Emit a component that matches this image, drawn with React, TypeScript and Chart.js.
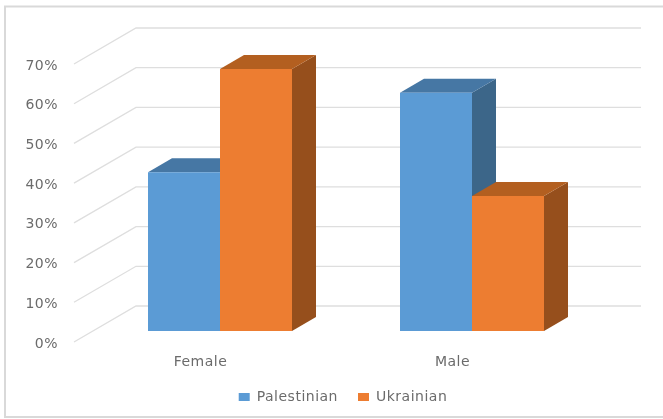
import React, { useEffect, useRef } from "react";
import { Chart, registerables } from "chart.js";

Chart.register(...registerables);

const categories = ["Female", "Male"];
const palestinian = [40, 60];
const ukrainian = [66, 34];
const seriesNames = ["Palestinian", "Ukrainian"];

const FONT = "'DejaVu Sans'";
const TEXT = "#6b6b6b";
const GRID = "#dedede";
const DEPTH_X = 24;
const DEPTH_Y = 14;
const WALL_X = 42;
const WALL_Y = 25;
const FLOOR_X = 62;
const FLOOR_Y = 36;

const faces = [
  { front: "#5B9BD5", top: "#4677A4", side: "#3C6689" },
  { front: "#ED7D31", top: "#B35F20", side: "#964F1C" },
];

const poly = (ctx: CanvasRenderingContext2D, pts: number[][], fill: string) => {
  ctx.beginPath();
  pts.forEach(([x, y], i) => (i ? ctx.lineTo(x, y) : ctx.moveTo(x, y)));
  ctx.closePath();
  ctx.fillStyle = fill;
  ctx.fill();
};

const depthPlugin = {
  id: "depth",
  beforeUpdate(chart: any) {
    chart.ctx.letterSpacing = "0.5px";
  },
  afterLayout(chart: any) {
    // centre the legend under the plot as a whole, not under the bar plane
    if (chart.legend) chart.legend.left = 88;
  },
  beforeDraw(chart: any) {
    const { ctx, scales, chartArea } = chart;
    ctx.letterSpacing = "0.5px";
    ctx.save();
    // outer frame
    ctx.strokeStyle = "#d9d9d9";
    ctx.lineWidth = 2;
    ctx.beginPath();
    ctx.moveTo(663, 6.5);
    ctx.lineTo(5, 6.5);
    ctx.lineTo(5, 417);
    ctx.lineTo(663, 417);
    ctx.stroke();
    // walls and gridlines
    ctx.strokeStyle = GRID;
    ctx.lineWidth = 1.3;
    scales.y.ticks.forEach((t: any) => {
      const y = scales.y.getPixelForValue(t.value);
      const bx = chartArea.left + WALL_X;
      const by = y - WALL_Y;
      ctx.beginPath();
      ctx.moveTo(bx - FLOOR_X, by + FLOOR_Y);
      ctx.lineTo(bx, by);
      ctx.lineTo(chartArea.right + WALL_X + 1, by);
      ctx.stroke();
    });
    ctx.restore();
  },
  beforeDatasetsDraw(chart: any) {
    const { ctx } = chart;
    ctx.save();
    chart.data.datasets.forEach((_: any, di: number) => {
      chart.getDatasetMeta(di).data.forEach((bar: any) => {
        const { x, y, base, width } = bar.getProps(["x", "y", "base", "width"], true);
        const l = x - width / 2;
        const r = x + width / 2;
        poly(ctx, [[r, y], [r + DEPTH_X, y - DEPTH_Y], [r + DEPTH_X, base - DEPTH_Y], [r, base]], faces[di].side);
        poly(ctx, [[l, y], [l + DEPTH_X, y - DEPTH_Y], [r + DEPTH_X, y - DEPTH_Y], [r, y]], faces[di].top);
      });
    });
    ctx.restore();
  },
};

export default function App() {
  const ref = useRef<HTMLCanvasElement>(null);
  useEffect(() => {
    document.body.style.background = "#fff";
    const chart = new Chart(ref.current!, {
      type: "bar",
      data: {
        labels: categories,
        datasets: [
          { label: seriesNames[0], data: palestinian, backgroundColor: faces[0].front },
          { label: seriesNames[1], data: ukrainian, backgroundColor: faces[1].front },
        ],
      },
      plugins: [depthPlugin],
      options: {
        animation: false,
        responsive: false,
        devicePixelRatio: 1,
        layout: { padding: { left: 0, right: 65, top: 53, bottom: 5 } },
        datasets: { bar: { barPercentage: 1, categoryPercentage: 144 / 252 } },
        plugins: {
          tooltip: { enabled: false },
          legend: {
            position: "bottom",
            labels: {
              boxWidth: 11,
              boxHeight: 8,
              padding: 20,
              color: TEXT,
              font: { family: FONT, size: 14 },
            },
          },
        },
        scales: {
          x: {
            grid: { display: false },
            border: { display: false },
            ticks: { color: TEXT, font: { family: FONT, size: 14 }, labelOffset: -19.5, padding: 15, maxRotation: 0 },
            afterFit(s: any) {
              s.height = 83 - (s.chart.legend?.height ?? 54);
            },
          },
          y: {
            min: 0,
            max: 70,
            grid: { display: false },
            border: { display: false },
            ticks: {
              stepSize: 10,
              color: TEXT,
              font: { family: FONT, size: 14 },
              padding: 28,
              labelOffset: 13,
              callback: (v: any) => v + "%",
            },
            afterFit(s: any) {
              s.width = 94;
            },
          },
        },
      },
    } as any);
    return () => chart.destroy();
  }, []);
  return (
    <div style={{ position: "absolute", left: 0, top: 0, width: 663, height: 419 }}>
      <canvas ref={ref} width={663} height={419} style={{ display: "block" }} />
    </div>
  );
}
